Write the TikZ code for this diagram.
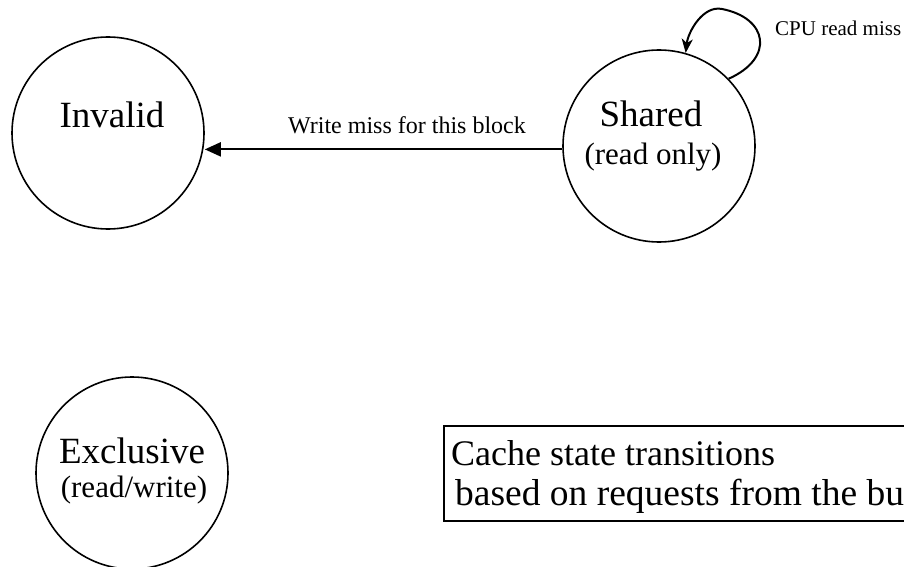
\documentclass[tikz,border=0pt]{standalone}
\usepackage{fontspec}
\setmainfont{Liberation Serif}
\usetikzlibrary{arrows.meta}
\begin{document}
\begin{tikzpicture}[x=1pt,y=-1pt,
  state/.style={draw, circle, line width=1.6pt, minimum size=192pt, inner sep=0pt},
  bigname/.style={font=\fontsize{37}{40}\selectfont, anchor=base, inner sep=0pt},
  subname/.style={font=\fontsize{31}{34}\selectfont, anchor=base, inner sep=0pt},
  edgelabel/.style={font=\fontsize{24}{26}\selectfont, anchor=base, inner sep=0pt},
  looplabel/.style={font=\fontsize{21}{24}\selectfont, anchor=base west, inner sep=0pt},
  notetext/.style={font=\fontsize{36}{40}\selectfont, anchor=base west, inner sep=0pt},
  trans/.style={line width=2pt, -{Triangle[length=16pt,width=14pt]}},
  selfloop/.style={line width=2pt, -{Stealth[length=14pt,width=11pt,inset=4pt]}}
]
\useasboundingbox (0,0) rectangle (904,567);
\clip (0,0) rectangle (904,567);

% states
\node[state] (inv) at (108,133) {};
\node[state] (sh)  at (659,146) {};
\node[state] (ex)  at (132,473) {};

\node[bigname] (invname) at (112,128) {Invalid};
\node[bigname] (shname)  at (651,127) {Shared};
\node[subname] (shsub)   at (653,164) {(read only)};
\node[bigname] (exname)  at (132,463) {Exclusive};
\node[subname] (exsub)   at (134,497) {(read/write)};

% write miss: Shared -> Invalid
\draw[trans] (sh.182) -- (inv.east |- sh.182);
\node[edgelabel] (wm) at (407,133) {Write miss for this block};

% CPU read miss: self loop on Shared
\draw[selfloop] (sh.44) .. controls (775,58) and (768,18) .. (722,9)
  .. controls (703,5) and (688,32) .. (sh.74);
\node[looplabel] (crm) at (775,36) {CPU read miss};

% note box
\node[draw, line width=2pt, anchor=north west, minimum width=540pt,
      minimum height=95pt, inner sep=0pt] (note) at (443,425) {};
\node[notetext] (note1) at (451,465) {Cache state transitions};
\node[notetext, font=\fontsize{37.5}{40}\selectfont] (note2) at (455,505)
  {based on requests from the bus};
\end{tikzpicture}
\end{document}
